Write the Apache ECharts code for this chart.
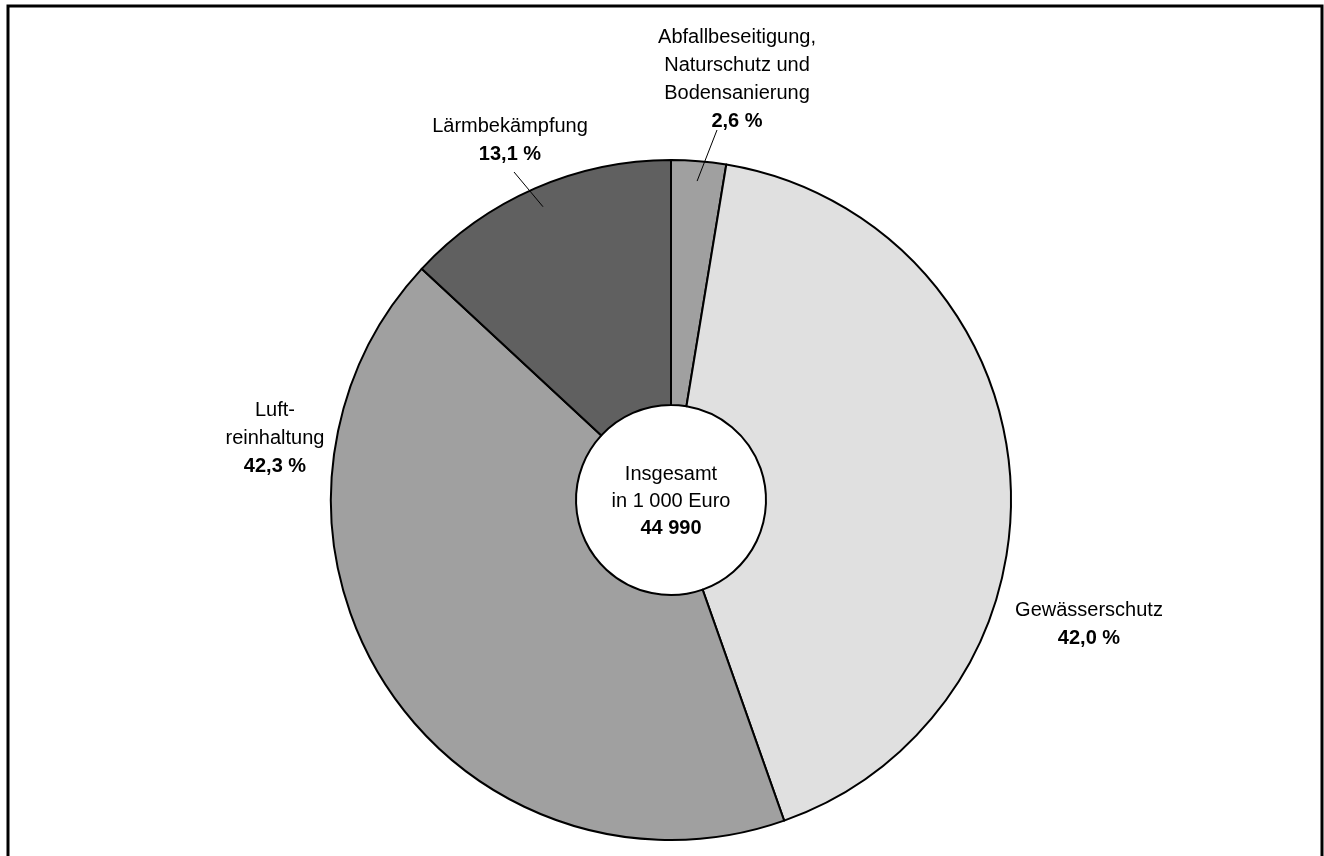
<!DOCTYPE html>
<html>
<head>
<meta charset="utf-8">
<script src="https://cdn.jsdelivr.net/npm/echarts@6/dist/echarts.min.js"></script>
<style>
  html, body { margin: 0; padding: 0; background: #fff; }
  #chart { width: 1324px; height: 856px; }
</style>
</head>
<body>
<div id="chart"></div>
<script>
// data
const categories = ['Abfallbeseitigung,\nNaturschutz und\nBodensanierung', 'Gewässerschutz', 'Luft-\nreinhaltung', 'Lärmbekämpfung']
const shares = [2.6, 42.0, 42.3, 13.1]
const shareLabels = ['2,6 %', '42,0 %', '42,3 %', '13,1 %']
const totalLines = ['Insgesamt', 'in 1 000 Euro']
const totalValue = '44 990'

// styles / layout
const sliceColors = ['#a0a0a0', '#e0e0e0', '#a0a0a0', '#606060']
const withLeader = [true, false, false, true]
const labelPos = [[737, 79], [1089, 624], [275, 438], [510, 140]]
const leaderEnd = [[717, 130], null, null, [514, 172]]
const cx = 671, cy = 500, rOuter = 340, rInner = 95, rLeader = 320
const font = '"Liberation Sans Narrow", "Arial Narrow", "Liberation Sans", Arial, sans-serif'
const fs = 20

// start of a leader line: inside the slice, on its middle angle
function leaderStart(i) {
  const total = shares.reduce((a, b) => a + b, 0)
  let before = 0
  for (let k = 0; k < i; k++) before += shares[k]
  const a = (before + shares[i] / 2) / total * Math.PI * 2
  return [cx + rLeader * Math.sin(a), cy - rLeader * Math.cos(a)]
}

const chart = echarts.init(document.getElementById('chart'))

const pieData = categories.map((name, i) => ({ name, value: shares[i] }))

chart.setOption({
  backgroundColor: '#fff',
  animation: false,
  graphic: [
    {
      type: 'rect',
      shape: { x: 8, y: 6, width: 1314, height: 880 },
      style: { fill: 'none', stroke: '#000', lineWidth: 3 },
      z: 100
    },
    {
      type: 'text',
      x: cx,
      y: cy + 1,
      z: 100,
      style: {
        text: totalLines.map(t => '{a|' + t + '}').join('\n') + '\n{b|' + totalValue + '}',
        align: 'center',
        verticalAlign: 'middle',
        rich: {
          a: { fontFamily: font, fontSize: fs, lineHeight: 27, fill: '#000', align: 'center' },
          b: { fontFamily: font, fontSize: fs, fontWeight: 'bold', lineHeight: 27, fill: '#000', align: 'center' }
        }
      }
    }
  ],
  series: [
    {
      // the slices
      type: 'pie',
      z: 2,
      center: [cx, cy],
      radius: [rInner, rOuter],
      startAngle: 90,
      clockwise: true,
      silent: true,
      label: { show: false },
      labelLine: { show: false },
      itemStyle: { borderColor: '#000', borderWidth: 2 },
      data: pieData.map((d, i) => ({ ...d, itemStyle: { color: sliceColors[i] } }))
    },
    {
      // transparent copy on top, carrying labels and leader lines
      type: 'pie',
      z: 3,
      center: [cx, cy],
      radius: [rInner, rOuter],
      startAngle: 90,
      clockwise: true,
      silent: true,
      avoidLabelOverlap: false,
      itemStyle: { color: 'rgba(0,0,0,0)', borderWidth: 0 },
      label: {
        show: true,
        position: 'outside',
        formatter: p => '{n|' + p.name.split('\n').join('}\n{n|') + '}\n{p|' + shareLabels[p.dataIndex] + '}',
        rich: {
          n: { fontFamily: font, fontSize: fs, lineHeight: 28, color: '#000', align: 'center' },
          p: { fontFamily: font, fontSize: fs, fontWeight: 'bold', lineHeight: 28, color: '#000', align: 'center' }
        }
      },
      labelLine: { show: true, length: 30, length2: 0, smooth: false, lineStyle: { color: '#000', width: 1 } },
      labelLayout: p => {
        const i = p.dataIndex
        const res = { x: labelPos[i][0], y: labelPos[i][1], align: 'center', verticalAlign: 'middle' }
        if (withLeader[i]) {
          const s = leaderStart(i)
          res.labelLinePoints = [s, leaderEnd[i], leaderEnd[i]]
        }
        return res
      },
      data: pieData.map((d, i) => ({ ...d, labelLine: { show: withLeader[i] } }))
    }
  ]
})
</script>
</body>
</html>
